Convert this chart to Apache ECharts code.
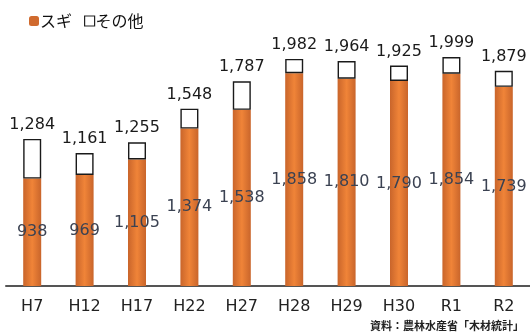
<!DOCTYPE html>
<html>
<head>
<meta charset="utf-8">
<script src="https://cdn.jsdelivr.net/npm/echarts@6/dist/echarts.min.js"></script>
<style>
  html, body { margin: 0; padding: 0; background: #fff; }
  #chart { width: 530px; height: 334px; }
</style>
</head>
<body>
<div id="chart"></div>
<script>
// 素材生産量（千m³）：スギとその他
const categories = ['H7', 'H12', 'H17', 'H22', 'H27', 'H28', 'H29', 'H30', 'R1', 'R2'];
const sugi = [938, 969, 1105, 1374, 1538, 1858, 1810, 1790, 1854, 1739];
const totals = [1284, 1161, 1255, 1548, 1787, 1982, 1964, 1925, 1999, 1879];
const others = totals.map((t, i) => t - sugi[i]);

const fmt = v => v.toLocaleString('en-US');
const FONT = '"Noto Sans CJK JP", "Noto Sans", sans-serif';
const NUM_FONT = '"DejaVu Sans", "Noto Sans CJK JP", sans-serif';

const chart = echarts.init(document.getElementById('chart'), null, { renderer: 'canvas' });

const orangeFill = new echarts.graphic.LinearGradient(0, 0, 1, 0, [
  { offset: 0, color: '#c9652b' },
  { offset: 0.5, color: '#f08438' },
  { offset: 1, color: '#c9652b' }
]);

chart.setOption({
  animation: false,
  backgroundColor: '#ffffff',
  textStyle: { fontFamily: FONT },
  legend: {
    left: 24,
    top: 8,
    itemWidth: 10,
    itemHeight: 10,
    itemGap: 12,
    textStyle: { fontSize: 16, color: '#111', fontFamily: FONT, padding: [0, 0, 0, -4] },
    data: [
      { name: 'スギ', icon: 'roundRect', itemStyle: { color: '#d06a2e', borderWidth: 0 } },
      { name: 'その他', icon: 'rect', itemStyle: { color: '#fff', borderColor: '#222', borderWidth: 1.2 } }
    ]
  },
  grid: { left: 6, width: 530, top: 34, bottom: 48, containLabel: false },
  xAxis: {
    type: 'category',
    data: categories,
    axisTick: { show: false },
    axisLine: { lineStyle: { color: '#555', width: 2 } },
    axisLabel: { fontSize: 16, color: '#222', margin: 13, fontFamily: NUM_FONT }
  },
  yAxis: {
    type: 'value',
    min: 0,
    max: 2200,
    show: false,
    splitLine: { show: false }
  },
  series: [
    {
      name: 'スギ',
      type: 'bar',
      stack: 'total',
      barWidth: 18,
      data: sugi,
      itemStyle: { color: orangeFill },
      label: {
        show: true,
        position: 'inside',
        fontSize: 16,
        color: '#3b4252',
        fontFamily: NUM_FONT,
        formatter: p => fmt(p.value)
      }
    },
    {
      name: 'その他',
      type: 'bar',
      stack: 'total',
      barWidth: 18,
      data: others,
      itemStyle: { color: '#ffffff', borderColor: '#1a1a1a', borderWidth: 1.4 },
      label: {
        show: true,
        position: 'top',
        distance: 6,
        fontSize: 16,
        color: '#1a1a1a',
        fontFamily: NUM_FONT,
        formatter: p => fmt(totals[p.dataIndex])
      }
    }
  ],
  graphic: [
    {
      type: 'text',
      right: 6,
      bottom: 3,
      style: {
        text: '資料：農林水産省「木材統計」',
        font: 'bold 11px ' + FONT,
        fill: '#222'
      }
    }
  ]
});
</script>
</body>
</html>
